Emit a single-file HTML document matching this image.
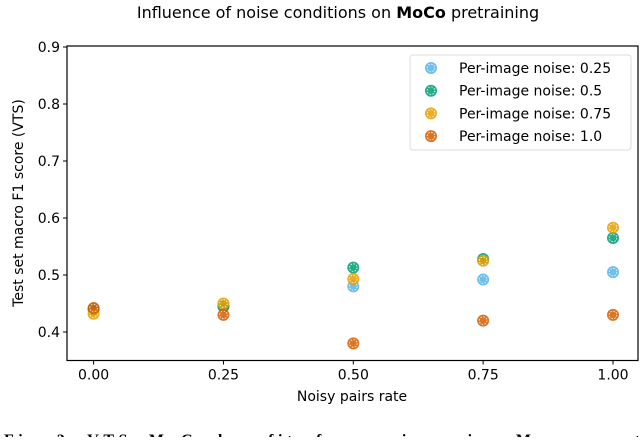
<!DOCTYPE html>
<html><head><meta charset="utf-8"><style>
body{margin:0;background:#fff;width:640px;height:437px;overflow:hidden}
svg text{font-family:"DejaVu Sans","Liberation Sans",sans-serif;fill:#000}
</style></head><body>
<svg id="chart" width="640" height="437">
<text x="338" y="18" font-size="16" text-anchor="middle">Influence of noise conditions on <tspan font-weight="bold">MoCo</tspan> pretraining</text>
<g id="plot"></g>
<text x="352" y="401" font-size="14" text-anchor="middle">Noisy pairs rate</text>
<text transform="translate(23,203) rotate(-90)" font-size="14" text-anchor="middle">Test set macro F1 score (VTS)</text>
<text x="4" y="445" font-size="16" font-weight="bold" textLength="636" lengthAdjust="spacing" style="font-family:'Liberation Serif',serif">Fig. 2: VTS. MoCo benefits from noise pairs. Moreover, t</text>
</svg>
<script>
const categories=[0,0.25,0.5,0.75,1.0];
const seriesNames=["Per-image noise: 0.25","Per-image noise: 0.5","Per-image noise: 0.75","Per-image noise: 1.0"];
const noise025=[0.44,0.445,0.48,0.492,0.505];
const noise05=[0.44,0.445,0.513,0.528,0.565];
const noise075=[0.432,0.45,0.493,0.525,0.583];
const noise10=[0.442,0.43,0.38,0.42,0.43];
const xTicks=[0,0.25,0.5,0.75,1.0];
const xTickLabels=["0.00","0.25","0.50","0.75","1.00"];
const yTicks=[0.4,0.5,0.6,0.7,0.8,0.9];
const yTickLabels=["0.4","0.5","0.6","0.7","0.8","0.9"];
const colors=["#56B4E9","#009E73","#E69F00","#D55E00"];
const NS="http://www.w3.org/2000/svg";
const L=67,R=638,T=46,B=360.5;
const xs=v=>93.6+v*(613-93.6);
const ys=v=>332-(v-0.4)*570;
const g=document.getElementById('plot');
function mk(t,a){const e=document.createElementNS(NS,t);for(const k in a)e.setAttribute(k,a[k]);return e;}
const frame=mk('rect',{x:L,y:T,width:R-L,height:B-T,fill:'none',stroke:'#000','stroke-width':1.2});


g.appendChild(frame);
xTicks.forEach((v,i)=>{
 const l=mk('line',{x1:xs(v),x2:xs(v),y1:B,y2:B+4,stroke:'#000'});
 
 
 g.appendChild(l);
 const t=mk('text',{x:xs(v),y:B+19,'font-size':14,'text-anchor':'middle'});t.textContent=xTickLabels[i];
 
 
 g.appendChild(t);
});
yTicks.forEach((v,i)=>{
 const l=mk('line',{x1:L-4,x2:L,y1:ys(v),y2:ys(v),stroke:'#000'});
 
 
 g.appendChild(l);
 const t=mk('text',{x:L-7,y:ys(v)+5,'font-size':14,'text-anchor':'end'});t.textContent=yTickLabels[i];
 
 
 g.appendChild(t);
});
function marker(cx,cy,c){
 const gg=mk('g',{});
 gg.appendChild(mk('circle',{cx:cx,cy:cy,r:6,fill:c,'fill-opacity':0.85}));
 gg.appendChild(mk('circle',{cx:cx,cy:cy,r:3.8,fill:'none',stroke:'#fff','stroke-width':0.8,'stroke-dasharray':'1.5 1.5'}));
 return gg;
}
[noise025,noise05,noise075,noise10].forEach((s,si)=>{
 s.forEach((v,i)=>{
  const m=marker(xs(categories[i]),ys(v),colors[si]);
  
  
  g.appendChild(m);
 });
});
const lg=mk('g',{});


lg.appendChild(mk('rect',{x:410,y:55,width:221,height:95,rx:3,fill:'#fff',stroke:'#ddd'}));
seriesNames.forEach((n,i)=>{
 const y=68+i*22.7;
 const e=mk('g',{});
 
 
 e.appendChild(marker(431,y,colors[i]));
 const t=mk('text',{x:459,y:y+5,'font-size':14});t.textContent=n;
 e.appendChild(t);
 lg.appendChild(e);
});
g.appendChild(lg);
</script>
</body></html>
